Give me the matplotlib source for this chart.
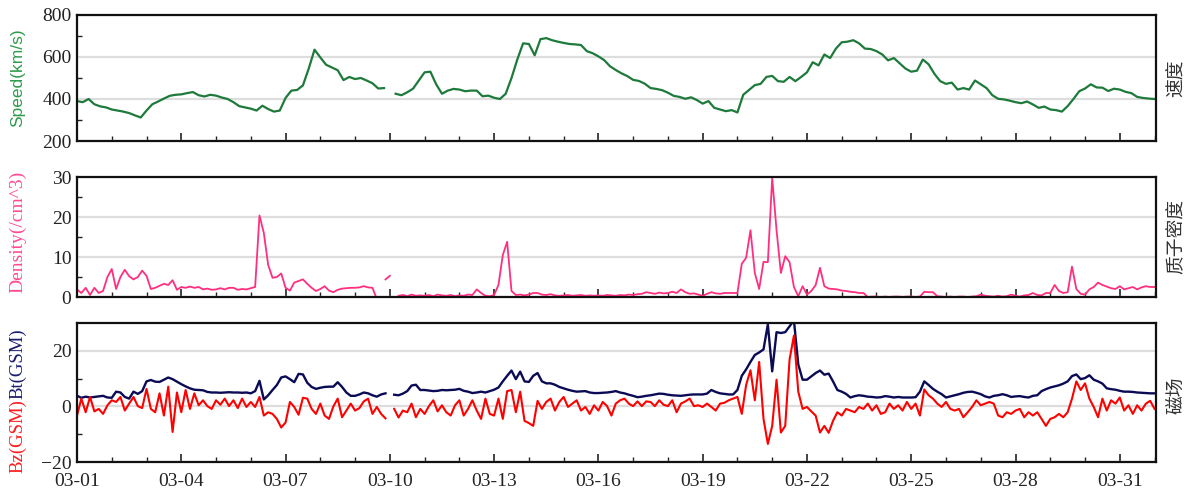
import numpy as np
import pandas as pd
import matplotlib
matplotlib.use("Agg")
import matplotlib.pyplot as plt
import matplotlib.dates as mdates
from matplotlib.ticker import FixedLocator, NullFormatter

nan = np.nan
start = pd.Timestamp("2016-03-01 00:00")

# solar wind speed, km/s, every 4 hours (one row per day)
speed = [
    390, 385, 400, 375, 365, 360,
    350, 345, 340, 333, 322, 312,
    345, 375, 388, 402, 415, 420,
    422, 428, 433, 418, 412, 420,
    416, 407, 400, 385, 366, 360,
    354, 345, 368, 352, 340, 345,
    405, 440, 443, 465, 545, 635,
    598, 563, 550, 537, 490, 505,
    495, 500, 488, 475, 450, 452,
    nan, 425, 418, 432, 449, 488,
    527, 530, 470, 425, 440, 448,
    445, 437, 440, 440, 413, 416,
    406, 400, 425, 500, 588, 665,
    662, 608, 685, 690, 680, 673,
    667, 662, 660, 657, 628, 618,
    603, 585, 556, 538, 522, 509,
    491, 486, 473, 452, 448, 442,
    430, 415, 410, 401, 408, 395,
    378, 390, 358, 350, 342, 347,
    336, 420, 443, 466, 472, 505,
    510, 485, 482, 505, 485, 505,
    527, 575, 560, 612, 595, 640,
    670, 673, 680, 665, 640, 638,
    628, 612, 584, 595, 570, 545,
    530, 535, 588, 565, 520, 485,
    472, 478, 445, 452, 445, 488,
    470, 452, 418, 401, 398, 392,
    385, 380, 388, 374, 358, 364,
    350, 347, 340, 366, 400, 437,
    450, 470, 455, 454, 438, 449,
    445, 434, 428, 410, 405, 402,
    400,
]

# proton density, /cm^3, every 3 hours
density = [
    1.9, 1.0, 2.3, 0.5, 2.3, 1.0, 1.5, 5.0,
    7.0, 2.0, 5.0, 6.8, 5.2, 4.4, 5.0, 6.6,
    5.3, 2.0, 2.3, 2.8, 3.3, 3.0, 4.2, 1.8,
    2.5, 2.3, 2.6, 2.3, 2.5, 1.9, 2.1, 1.8,
    1.9, 2.2, 1.9, 2.3, 2.3, 1.8, 2.0, 1.9,
    2.2, 2.5, 20.4, 16.0, 8.0, 4.8, 5.0, 5.9,
    2.3, 1.6, 3.6, 4.0, 4.4, 3.3, 2.3, 1.5,
    2.0, 2.7, 1.6, 1.2, 1.8, 2.1, 2.2, 2.3,
    2.3, 2.4, 2.7, 2.4, 2.3, -0.5, nan, 4.4,
    5.3, nan, 0.3, 0.5, 0.2, 0.6, 0.3, 0.4,
    0.3, 0.5, 0.2, 0.6, 0.4, 0.3, 0.5, 0.2,
    0.4, 0.3, 0.6, 0.5, 1.9, 1.0, 0.3, 0.2,
    0.5, 3.0, 10.5, 13.8, 1.5, 0.5, 0.6, 0.4,
    0.6, 1.0, 1.0, 0.6, 0.5, 0.7, 0.4, 0.3,
    0.4, 0.5, 0.3, 0.4, 0.5, 0.3, 0.4, 0.3,
    0.4, 0.3, 0.5, 0.4, 0.3, 0.5, 0.4, 0.6,
    0.5, 0.7, 0.8, 1.2, 1.0, 0.8, 1.1, 0.9,
    1.0, 1.3, 1.0, 1.9, 1.2, 0.8, 0.9, 0.6,
    0.3, 0.8, 1.2, 0.9, 0.8, 1.0, 1.0, 1.0,
    1.0, 8.3, 9.8, 16.7, 6.0, 2.0, 8.8, 8.7,
    29.8, 16.7, 6.0, 10.2, 8.7, 2.5, 0.2, 2.7,
    0.6, 1.5, 3.0, 7.3, 2.7, 2.1, 2.0, 1.9,
    1.6, 1.5, 1.3, 1.2, 1.0, 1.0, 0.0, 0.1,
    0.1, 0.0, 0.1, 0.0, 0.1, 0.1, 0.0, 0.1,
    0.1, 0.0, 0.1, 1.3, 1.2, 1.2, 0.2, 0.1,
    0.0, 0.1, 0.0, 0.1, 0.1, 0.0, 0.1, 0.2,
    0.6, 0.3, 0.2, 0.1, 0.3, 0.1, 0.2, 0.6,
    0.3, 0.1, 0.4, 0.5, 1.0, 0.5, 0.4, 1.0,
    1.0, 3.0, 1.5, 1.0, 1.2, 7.6, 2.0, 0.8,
    0.6, 1.9, 2.5, 3.6, 3.0, 2.6, 2.2, 2.0,
    2.7, 1.9, 2.2, 2.5, 1.9, 2.4, 2.7, 2.5,
    2.5,
]

# IMF total field Bt, nT, every 3 hours
bt = [
    3.8, 3.1, 3.5, 3.2, 3.4, 3.6, 3.8, 3.2,
    3.1, 5.3, 5.0, 3.4, 2.8, 5.3, 4.5, 5.5,
    9.0, 9.5, 8.9, 8.8, 9.6, 10.4, 9.8, 8.9,
    8.0, 7.2, 6.5, 6.0, 5.9, 5.8, 5.2, 5.0,
    5.0, 4.9, 5.0, 5.1, 5.0, 5.0, 4.9, 5.0,
    4.7, 5.5, 9.2, 2.5, 4.0, 5.9, 7.7, 10.4,
    10.8, 9.8, 8.7, 11.7, 11.5, 8.5, 7.0, 6.3,
    6.7, 7.0, 7.1, 7.1, 8.7, 7.0, 5.0, 3.8,
    3.8, 4.3, 5.0, 4.7, 4.0, 3.5, 4.3, 4.7,
    nan, 4.2, 4.0, 4.6, 5.5, 7.5, 7.8, 5.9,
    5.9, 5.7, 5.5, 5.6, 5.9, 5.8, 5.9, 6.0,
    6.3, 5.6, 5.3, 4.8, 5.0, 5.3, 5.0, 5.5,
    6.0, 6.8, 9.0, 11.0, 12.9, 9.8, 12.5, 9.0,
    8.8, 11.0, 12.0, 9.0, 8.3, 8.3, 7.8, 7.0,
    6.5, 6.0, 5.6, 5.3, 5.4, 5.5, 5.0, 4.8,
    4.8, 4.9, 5.0, 5.2, 5.5, 5.0, 4.7, 4.2,
    3.8, 3.3, 3.5, 3.8, 4.0, 4.3, 4.6, 4.5,
    4.2, 4.0, 3.9, 3.8, 4.0, 4.2, 4.3, 4.3,
    4.3, 4.6, 5.9, 5.2, 4.7, 4.5, 4.3, 4.3,
    5.9, 11.0, 13.3, 16.0, 18.5, 19.4, 20.5, 29.5,
    12.6, 26.7, 26.4, 26.7, 28.8, 31.0, 15.1, 9.6,
    9.6, 10.8, 12.0, 12.9, 11.4, 11.8, 9.0, 5.9,
    5.3, 4.5, 3.2, 3.7, 4.0, 3.8, 3.5, 3.4,
    3.2, 3.3, 3.7, 3.5, 3.2, 3.4, 3.2, 3.2,
    3.2, 3.3, 5.3, 9.0, 7.7, 6.3, 5.3, 4.4,
    3.2, 3.6, 4.0, 4.4, 4.9, 5.2, 5.3, 4.9,
    4.4, 3.6, 3.2, 3.8, 4.0, 4.4, 4.0, 3.4,
    3.6, 3.7, 3.4, 3.2, 3.8, 4.0, 5.5, 6.2,
    6.8, 7.2, 7.6, 8.2, 9.0, 10.9, 11.5, 9.8,
    10.2, 11.2, 9.6, 9.0, 8.2, 6.5, 6.2, 6.0,
    5.6, 5.3, 5.3, 5.2, 5.0, 4.9, 4.8, 4.7,
    4.7,
]

# IMF Bz (GSM), nT, every 3 hours
bz = [
    -3.3, 2.8, -2.1, 3.4, -1.8, -0.9, -2.7, 0.4,
    2.2, 1.6, 3.4, -1.5, 1.0, 3.4, 0.1, -0.6,
    6.3, -0.9, -2.1, 4.7, -3.3, 7.1, -9.2, 5.0,
    -2.1, 5.9, -0.9, 4.7, 0.4, 2.2, 0.1, -0.9,
    2.2, 0.6, 2.8, 0.1, 2.2, -0.6, 2.8, -0.2,
    1.6, -0.2, 3.4, -3.3, -2.1, -2.7, -4.5, -7.6,
    -5.8, 1.6, -0.2, -3.0, 3.1, 2.8, -0.9, -2.7,
    1.0, -3.3, -4.5, 0.0, 2.8, -3.9, -1.5, 1.0,
    -1.5, -0.6, 1.8, 2.8, -2.7, -0.2, -2.7, -4.3,
    nan, -0.9, -4.0, -1.5, -2.1, 1.0, -3.9, -0.9,
    -2.7, 0.1, 2.2, -1.8, 0.4, -2.1, -3.3, 0.4,
    2.2, -3.3, -0.9, 2.2, -1.5, -4.5, 2.8, -2.7,
    -3.3, 2.8, -4.5, 5.5, 5.9, -2.1, 5.3, -5.2,
    -6.0, -7.0, 2.0, -0.9, 1.6, 2.8, -1.5, 1.6,
    3.4, -0.2, 1.0, 2.2, -1.5, -0.2, -2.7, 0.4,
    -1.5, 1.6, 0.1, -3.3, 1.0, 2.2, 2.8, 1.0,
    0.1, 1.8, 0.1, 1.8, 1.6, 0.1, 2.2, 0.6,
    0.1, 2.2, -2.1, 1.0, 1.8, 2.8, 0.1, 0.4,
    -0.2, 1.0, -0.2, -1.5, 1.0, 1.3, 2.2, 2.8,
    3.4, -2.7, 7.7, 13.0, 2.2, 16.0, -4.5, -13.5,
    -7.0, 9.6, -9.4, -7.0, 16.9, 25.5, 5.3, -0.9,
    -0.2, -1.8, -3.3, -9.4, -7.0, -9.5, -5.2, -2.1,
    -3.3, -0.9, -1.5, -2.1, -0.2, -0.9, 1.0, -1.5,
    0.4, -2.7, -2.1, 1.0, -0.9, 0.4, -1.5, 1.6,
    -0.9, 1.0, -3.3, 6.1, 4.0, 2.8, 1.0, -0.2,
    1.6, -0.9, -1.5, -0.9, -3.9, -2.1, -0.2, 2.2,
    0.4, 1.0, 1.6, 1.0, -3.3, -3.9, -2.1, -2.7,
    -1.5, -0.9, -3.9, -2.1, -3.3, -2.1, -4.5, -7.0,
    -4.5, -3.9, -2.7, -3.9, -2.1, 2.8, 9.0, 5.9,
    8.3, 2.8, -0.2, -3.9, 2.8, -1.5, 2.2, 1.0,
    3.2, -1.5, 0.4, -2.7, 0.4, -1.5, 1.0, 2.0,
    -0.9,
]

tick_labels = ["03-01", "03-04", "03-07", "03-10", "03-13", "03-16",
               "03-19", "03-22", "03-25", "03-28", "03-31"]

t_speed = pd.date_range(start, periods=len(speed), freq="4h")
t_dens = pd.date_range(start, periods=len(density), freq="3h")
t_bt = pd.date_range(start, periods=len(bt), freq="3h")
t_bz = pd.date_range(start, periods=len(bz), freq="3h")
tick_dates = pd.to_datetime(["2016-" + s for s in tick_labels])
day_dates = pd.date_range(start, "2016-04-01", freq="D")

plt.rcParams["font.family"] = ["Liberation Serif", "Noto Sans CJK SC"]
W, H = 1190, 498
fig = plt.figure(figsize=(W / 100, H / 100), dpi=100)

def px_box(top, bottom, left=77, right=1156):
    return [left / W, 1 - bottom / H, (right - left) / W, (bottom - top) / H]

ax1 = fig.add_axes(px_box(15, 141))
ax2 = fig.add_axes(px_box(177, 297))
ax3 = fig.add_axes(px_box(323, 462))

ax1.plot(t_speed, speed, color="#1d7a3a", lw=1.6)
ax2.plot(t_dens, density, color="#ff2f80", lw=1.3)
ax3.plot(t_bt, bt, color="#0b0b55", lw=1.7)
ax3.plot(t_bz, bz, color="#ff0000", lw=1.5)

ax1.set_ylim(200, 800)
ax1.set_yticks([200, 400, 600, 800])
ax1.yaxis.set_minor_locator(FixedLocator([300, 500, 700]))
ax2.set_ylim(0, 30)
ax2.set_yticks([0, 10, 20, 30])
ax2.yaxis.set_minor_locator(FixedLocator([5, 15, 25]))
ax3.set_ylim(-20, 30)
ax3.set_yticks([-20, 0, 20])
ax3.yaxis.set_minor_locator(FixedLocator([-10, 10]))

for ax in (ax1, ax2, ax3):
    ax.set_xlim(start, pd.Timestamp("2016-04-01 01:00"))
    ax.xaxis.set_major_locator(FixedLocator(mdates.date2num(tick_dates)))
    ax.xaxis.set_minor_locator(FixedLocator(mdates.date2num(day_dates)))
    ax.xaxis.set_minor_formatter(NullFormatter())
    ax.grid(True, axis="y", which="major", color="#dddddd", lw=1.6)
    ax.set_axisbelow(True)
    for s in ax.spines.values():
        s.set_linewidth(1.6)
        s.set_color("#111111")
    ax.tick_params(axis="both", which="both", direction="in", colors="#222222",
                   labelsize=14, pad=4)
    ax.tick_params(axis="x", which="major", length=6, width=1.2, pad=8)
    ax.tick_params(axis="x", which="minor", length=3.5, width=1.0)
    ax.tick_params(axis="y", which="major", length=0)
    ax.tick_params(axis="y", which="minor", length=3.5, width=1.0)

ax1.set_xticklabels([])
ax2.set_xticklabels([])
ax3.set_xticklabels(tick_labels)

# left axis titles
fig.text(18 / W, 1 - 78 / H, "Speed(km/s)", rotation=90, ha="center", va="center",
         color="#2e9b4b", fontsize=12.5, family="Liberation Sans")
fig.text(18 / W, 1 - 232 / H, "Density(/cm^3)", rotation=90, ha="center", va="center",
         color="#ff4b95", fontsize=14)
fig.text(18 / W, 1 - 399 / H, "Bz(GSM)", rotation=90, ha="center", va="top",
         color="#ff1a1a", fontsize=13.5)
fig.text(18 / W, 1 - 399 / H, "Bt(GSM)", rotation=90, ha="center", va="bottom",
         color="#1a1a6e", fontsize=13.5)

# right panel names
for y, name in [(78, "速度"), (236, "质子密度"), (395, "磁场")]:
    fig.text(1176 / W, 1 - y / H, name, rotation=90, ha="center", va="center",
             color="#333333", fontsize=13.5, family="Noto Sans CJK SC")

fig.savefig("out.png", dpi=100)
